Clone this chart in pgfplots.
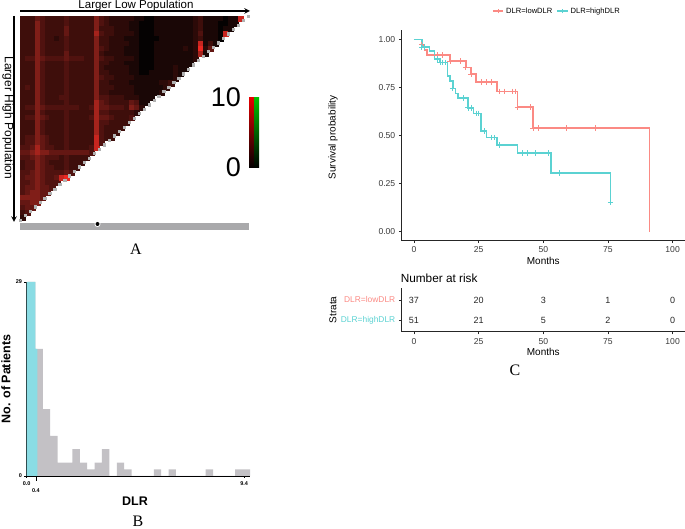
\documentclass[border=0pt]{standalone}
\usepackage{fontspec}
\setmainfont{Liberation Sans}
\newfontfamily\serifpanel{Liberation Serif}
\usepackage{pgfplots}
\usepackage{pgfplotstable}
\pgfplotsset{compat=1.18}

\definecolor{lowc}{HTML}{FB8A84}
\definecolor{highc}{HTML}{5BD2D2}
\definecolor{histgray}{HTML}{C3C1C5}
\definecolor{histcyan}{HTML}{8ADCE4}
\definecolor{bargray}{HTML}{A9A9AB}
\definecolor{ticktext}{HTML}{3A3A3A}

% heat map A, 0..9, rows top to bottom; the part below the diagonal is filtered out
\pgfplotstableread[header=false]{
3 3 3 5 4 3 3 3 3 4  3 3 3 3 3 6 4 3 2 2  2 2 2 1 1 0 0 1 1 1  1 1 1 1 1 2 3 1 1 1  1 0 1 1 8 1
3 3 3 6 4 3 3 3 3 4  3 3 3 3 3 6 4 3 2 2  2 2 1 1 0 0 0 1 1 1  1 1 1 1 1 2 3 1 1 1  0 0 1 1 1 0
3 3 3 6 4 3 3 3 3 5  3 3 3 3 3 6 3 3 3 2  2 2 1 1 0 0 0 1 1 1  1 1 1 1 1 2 3 1 1 1  0 1 1 0 0 0
3 3 3 6 4 3 3 3 3 5  3 3 3 3 3 7 4 3 3 2  2 2 2 1 0 0 0 1 1 1  1 1 1 1 1 2 4 1 1 1  0 8 7 0 0 0
3 3 3 6 4 3 3 2 3 4  3 3 3 3 3 6 3 3 2 2  2 1 1 1 0 0 0 0 1 1  1 1 1 1 1 2 3 1 1 1  0 0 0 0 0 0
3 3 3 6 4 3 3 3 3 4  3 3 3 3 3 6 3 3 2 2  2 2 1 1 0 0 0 1 1 1  1 1 1 1 1 2 8 1 3 1  0 0 0 0 0 0
3 3 3 6 4 3 3 3 3 4  3 3 3 3 3 6 4 3 2 2  2 1 1 1 0 0 0 1 1 1  1 1 1 2 1 2 9 2 5 0  0 0 0 0 0 0
3 3 3 6 4 3 3 3 3 5  3 3 3 3 3 6 3 2 2 2  2 1 1 1 0 0 0 1 1 1  1 1 1 1 1 2 7 1 0 0  0 0 0 0 0 0
3 4 4 6 5 4 4 4 4 5  4 4 4 3 3 6 4 3 3 2  2 2 2 1 0 0 0 1 1 1  1 1 1 1 1 2 3 0 0 0  0 0 0 0 0 0
3 3 3 6 4 3 3 3 3 4  3 3 3 3 3 6 3 3 2 2  2 1 1 1 0 0 0 1 1 1  1 1 1 1 1 2 0 0 0 0  0 0 0 0 0 0
3 3 3 6 4 3 3 3 3 4  3 3 3 3 3 6 3 2 2 2  2 2 1 1 0 0 0 1 1 1  1 2 1 1 1 0 0 0 0 0  0 0 0 0 0 0
3 3 3 6 4 3 3 3 3 4  3 3 3 3 3 6 3 3 2 2  2 2 1 1 0 0 1 1 1 1  1 2 1 1 0 0 0 0 0 0  0 0 0 0 0 0
3 3 3 6 4 3 3 3 3 4  3 3 3 3 3 6 4 3 3 2  2 2 2 1 1 1 1 1 1 1  1 2 3 0 0 0 0 0 0 0  0 0 0 0 0 0
3 3 3 6 4 3 3 3 3 4  3 3 3 3 3 6 3 3 2 2  2 2 1 1 1 1 1 1 2 2  3 7 0 0 0 0 0 0 0 0  0 0 0 0 0 0
3 4 3 6 4 3 3 3 3 4  3 3 3 3 3 6 3 3 3 2  2 2 2 1 1 1 1 1 1 2  1 0 0 0 0 0 0 0 0 0  0 0 0 0 0 0
3 3 3 6 4 3 3 3 3 4  3 3 3 3 3 6 3 3 2 2  2 2 2 1 1 1 1 1 2 1  0 0 0 0 0 0 0 0 0 0  0 0 0 0 0 0
3 3 3 6 4 3 3 3 4 4  3 3 3 3 3 6 4 4 3 3  3 2 2 2 1 1 1 1 1 0  0 0 0 0 0 0 0 0 0 0  0 0 0 0 0 0
3 3 3 6 4 3 3 3 3 4  3 3 3 3 3 7 5 4 3 3  3 3 5 4 1 1 1 1 0 0  0 0 0 0 0 0 0 0 0 0  0 0 0 0 0 0
3 4 4 6 5 4 4 4 4 4  4 4 3 3 4 7 5 5 4 4  4 3 6 5 2 6 1 0 0 0  0 0 0 0 0 0 0 0 0 0  0 0 0 0 0 0
3 3 3 6 4 3 3 3 3 4  3 3 3 3 3 7 4 4 3 3  3 3 3 2 1 1 0 0 0 0  0 0 0 0 0 0 0 0 0 0  0 0 0 0 0 0
3 4 4 6 5 4 3 3 3 4  3 3 3 3 4 7 5 5 4 3  3 3 4 6 2 0 0 0 0 0  0 0 0 0 0 0 0 0 0 0  0 0 0 0 0 0
3 3 3 6 4 3 3 3 3 4  3 3 3 3 3 7 4 4 3 3  3 3 3 2 0 0 0 0 0 0  0 0 0 0 0 0 0 0 0 0  0 0 0 0 0 0
3 3 3 6 4 3 3 3 3 4  3 3 3 3 3 7 4 3 3 3  3 3 2 0 0 0 0 0 0 0  0 0 0 0 0 0 0 0 0 0  0 0 0 0 0 0
3 3 3 6 4 3 3 3 3 4  3 3 3 3 3 7 4 3 3 3  4 2 0 0 0 0 0 0 0 0  0 0 0 0 0 0 0 0 0 0  0 0 0 0 0 0
3 4 4 6 5 4 3 3 3 4  3 3 3 3 3 8 4 3 3 3  3 0 0 0 0 0 0 0 0 0  0 0 0 0 0 0 0 0 0 0  0 0 0 0 0 0
3 4 4 6 5 4 3 3 3 4  3 3 3 3 3 8 4 3 3 4  0 0 0 0 0 0 0 0 0 0  0 0 0 0 0 0 0 0 0 0  0 0 0 0 0 0
4 4 5 7 5 4 4 3 3 4  3 3 3 3 4 8 4 4 3 0  0 0 0 0 0 0 0 0 0 0  0 0 0 0 0 0 0 0 0 0  0 0 0 0 0 0
5 5 6 7 6 6 5 5 5 5  5 5 5 5 4 7 5 0 0 0  0 0 0 0 0 0 0 0 0 0  0 0 0 0 0 0 0 0 0 0  0 0 0 0 0 0
4 4 5 6 5 4 4 4 3 4  3 3 3 3 3 4 0 0 0 0  0 0 0 0 0 0 0 0 0 0  0 0 0 0 0 0 0 0 0 0  0 0 0 0 0 0
3 4 4 6 5 4 3 3 3 4  3 3 3 3 4 0 0 0 0 0  0 0 0 0 0 0 0 0 0 0  0 0 0 0 0 0 0 0 0 0  0 0 0 0 0 0
3 4 4 6 5 4 4 3 3 4  3 3 4 4 0 0 0 0 0 0  0 0 0 0 0 0 0 0 0 0  0 0 0 0 0 0 0 0 0 0  0 0 0 0 0 0
4 4 5 6 5 4 4 4 4 5  4 4 4 0 0 0 0 0 0 0  0 0 0 0 0 0 0 0 0 0  0 0 0 0 0 0 0 0 0 0  0 0 0 0 0 0
4 5 5 6 5 4 4 5 8 9  9 6 0 0 0 0 0 0 0 0  0 0 0 0 0 0 0 0 0 0  0 0 0 0 0 0 0 0 0 0  0 0 0 0 0 0
4 4 5 6 5 4 4 4 5 5  0 0 0 0 0 0 0 0 0 0  0 0 0 0 0 0 0 0 0 0  0 0 0 0 0 0 0 0 0 0  0 0 0 0 0 0
4 5 5 6 5 5 4 5 5 0  0 0 0 0 0 0 0 0 0 0  0 0 0 0 0 0 0 0 0 0  0 0 0 0 0 0 0 0 0 0  0 0 0 0 0 0
4 5 6 6 5 5 5 5 0 0  0 0 0 0 0 0 0 0 0 0  0 0 0 0 0 0 0 0 0 0  0 0 0 0 0 0 0 0 0 0  0 0 0 0 0 0
6 6 6 6 5 5 5 0 0 0  0 0 0 0 0 0 0 0 0 0  0 0 0 0 0 0 0 0 0 0  0 0 0 0 0 0 0 0 0 0  0 0 0 0 0 0
5 5 6 6 5 0 0 0 0 0  0 0 0 0 0 0 0 0 0 0  0 0 0 0 0 0 0 0 0 0  0 0 0 0 0 0 0 0 0 0  0 0 0 0 0 0
4 5 5 5 0 0 0 0 0 0  0 0 0 0 0 0 0 0 0 0  0 0 0 0 0 0 0 0 0 0  0 0 0 0 0 0 0 0 0 0  0 0 0 0 0 0
3 4 4 0 0 0 0 0 0 0  0 0 0 0 0 0 0 0 0 0  0 0 0 0 0 0 0 0 0 0  0 0 0 0 0 0 0 0 0 0  0 0 0 0 0 0
2 3 0 0 0 0 0 0 0 0  0 0 0 0 0 0 0 0 0 0  0 0 0 0 0 0 0 0 0 0  0 0 0 0 0 0 0 0 0 0  0 0 0 0 0 0
}\heat

\pgfplotsset{
  kmaxis/.style={
    scale only axis, width=284pt,
    xmin=-4.9, xmax=104.9, xtick={0,25,50,75,100},
    axis x line*=bottom, axis y line*=left,
    axis line style={-, line width=1pt, color=black!85},
    tick style={color=black!85, line width=0.6pt},
    tick align=outside, major tick length=2.5pt,
    ticklabel style={font=\fontsize{8.6}{10}\selectfont, color=ticktext},
    xlabel={Months}, x label style={font=\fontsize{10}{12}\selectfont},
    xticklabel style={/pgf/number format/assume math mode=true, text height=6.2pt, text depth=0pt},
    yticklabel style={/pgf/number format/assume math mode=true},
  },
  kmline/.style={color=#1, line width=1.6pt, const plot, mark=none},
  kmcens/.style={color=#1, only marks, mark=+, mark size=2.8pt, mark options={line width=0.6pt}, forget plot},
}

\begin{document}
\begin{tikzpicture}[x=1pt,y=1pt]
\path[use as bounding box] (0,0) rectangle (685,529);

% ---- A ----
\begin{axis}[
  at={(20pt,309pt)}, anchor=south west,
  scale only axis, width=228pt, height=204pt, hide axis, clip=false,
  xmin=-0.5, xmax=45.5, ymin=-0.5, ymax=40.5, y dir=reverse,
  point meta min=0, point meta max=9, unbounded coords=discard,
  colormap={hm}{rgb255(0pt)=(5,2,2); rgb255(1pt)=(26,7,6); rgb255(2pt)=(44,10,8);
    rgb255(3pt)=(62,14,11); rgb255(4pt)=(80,18,15); rgb255(5pt)=(100,23,19);
    rgb255(6pt)=(128,30,24); rgb255(7pt)=(165,35,28); rgb255(9pt)=(236,40,34)},
]
\pgfplotsinvokeforeach{0,...,45}{
  \addplot[scatter, only marks, mark=square*, mark size=2.55pt, point meta=explicit,
    scatter/use mapped color={draw=mapped color, fill=mapped color}]
    table[x expr=#1, y expr={(#1+0.5)/46+(\coordindex+0.5)/41>1.0 ? nan : \coordindex}, meta index=#1]{\heat};
}
\addplot[only marks, mark=square*, mark size=1.1pt, color=black!30] coordinates {
(45.5,-0.5)(44.5,0.39)(43.5,1.28)(42.5,2.17)(41.5,3.07)(40.5,3.96)(39.5,4.85)(38.5,5.74)(37.5,6.63)(36.5,7.52)
(35.5,8.41)(34.5,9.3)(33.5,10.2)(32.5,11.09)(31.5,11.98)(30.5,12.87)(29.5,13.76)(28.5,14.65)(27.5,15.54)(26.5,16.43)
(25.5,17.33)(24.5,18.22)(23.5,19.11)(22.5,20)(21.5,20.89)(20.5,21.78)(19.5,22.67)(18.5,23.57)(17.5,24.46)(16.5,25.35)
(15.5,26.24)(14.5,27.13)(13.5,28.02)(12.5,28.91)(11.5,29.8)(10.5,30.7)(9.5,31.59)(8.5,32.48)(7.5,33.37)(6.5,34.26)
(5.5,35.15)(4.5,36.04)(3.5,36.93)(2.5,37.83)(1.5,38.72)(0.5,39.61)(-0.5,40.5)};
\end{axis}
\draw[line width=1.5pt, -stealth] (20,518) -- (250,518);
\node[font=\fontsize{11.5}{13}\selectfont] at (136,523) {Larger Low Population};
\draw[line width=1.5pt, -stealth] (14,513) -- (14,307);
\node[rotate=-90, font=\fontsize{12}{13}\selectfont] at (8,411) {Larger High Population};
\fill[bargray] (20,299) rectangle (249,306);
\fill[white] (97.5,305) circle (3pt);
\fill[black] (97.5,305) circle (2pt);
\shade[bottom color=black, top color=red!90!black] (249,361) rectangle (254,431);
\shade[bottom color=black, top color=green!75!black] (254,361) rectangle (259,431);
\node[anchor=east, font=\fontsize{27}{28}\selectfont] at (244.5,432) {10};
\node[anchor=east, font=\fontsize{27}{28}\selectfont] at (244.5,362) {0};
\node[font=\serifpanel\fontsize{16}{18}\selectfont] at (136,280) {A};

% ---- B ----
\begin{axis}[
  at={(26pt,53pt)}, anchor=south west,
  scale only axis, width=224pt, height=194pt,
  xmin=-0.03, xmax=9.656, ymin=0, ymax=29,
  axis x line*=bottom, axis y line*=left,
  axis line style={-, line width=0.9pt},
  tick align=outside, major tick length=2pt, tick style={line width=0.7pt, color=black},
  xtick={0,9.4}, xticklabels={0.0,9.4},
  extra x ticks={0.4}, extra x tick labels={0.4},
  extra x tick style={major tick length=5pt, xticklabel style={yshift=-4pt}},
  ytick={0,29},
  ticklabel style={font=\bfseries\fontsize{5.5}{6}\selectfont, /pgf/number format/assume math mode=true},
  xticklabel style={yshift=0pt}, yticklabel style={xshift=1.5pt},
  xlabel={\bfseries DLR}, x label style={font=\fontsize{12.5}{14}\selectfont, yshift=4pt, xshift=-3pt},
  ylabel={\bfseries No. of Patients}, y label style={font=\fontsize{12.5}{14}\selectfont, anchor=center, at={(axis description cs:-0.09,0.5)}},
]
\addplot[ybar interval, fill=histgray, draw=none] coordinates {
(0.056,29)(0.376,19)(0.696,10)(1.016,6)(1.336,2)(1.656,2)(1.976,4)(2.296,2)(2.616,1)(2.936,2)
(3.256,4)(3.576,0)(3.896,2)(4.216,1)(4.536,0)(4.856,0)(5.176,0)(5.496,1)(5.816,0)(6.136,1)
(6.456,0)(6.776,0)(7.096,0)(7.416,0)(7.736,1)(8.056,0)(8.376,0)(8.696,0)(9.016,1)(9.336,1)(9.656,0)};
\addplot[ybar interval, fill=histcyan, draw=none] coordinates {(0,29)(0.37,19)(0.457,0)};
\end{axis}
\node[font=\serifpanel\fontsize{16}{18}\selectfont] at (138,8) {B};

% ---- C survival ----
\begin{axis}[kmaxis,
  at={(401.3pt,288.3pt)}, anchor=south west, height=210.7pt,
  ymin=-0.047, ymax=1.05, ytick={0,0.25,0.5,0.75,1},
  yticklabel style={/pgf/number format/fixed, /pgf/number format/fixed zerofill, /pgf/number format/precision=2},
  ylabel={Survival probability}, y label style={font=\fontsize{10}{12}\selectfont, anchor=center, at={(axis description cs:-0.2405,0.49)}},
  x label style={yshift=3pt},
  legend style={at={(axis description cs:0.548,1.09)}, anchor=center, draw=none, fill=none, legend columns=2,
    font=\fontsize{7.6}{9}\selectfont, inner sep=0pt,
    /tikz/every even column/.append style={column sep=2pt}},
  legend cell align=left,
  legend image code/.code={
    \draw[#1] (0pt,0pt) -- (10.5pt,0pt);
    \draw[#1, line width=0.6pt] (5.25pt,-2.4pt) -- (5.25pt,2.4pt);
  },
]
\addplot[kmline=lowc] coordinates {(0,1)(3,0.973)(4,0.946)(5,0.919)(14,0.889)(20,0.855)(22,0.82)(24,0.78)(32,0.73)(40,0.65)(46,0.54)(91,0)(91,0)};
\addlegendentry{DLR=lowDLR}
\addplot[kmline=highc] coordinates {(0,1)(3,0.962)(6,0.94)(8,0.9)(10,0.88)(13,0.81)(14,0.785)(15,0.745)(16,0.72)(17,0.695)(21,0.645)(23,0.615)(26,0.525)(28,0.49)(32,0.452)(40,0.41)(53,0.305)(76,0.155)};
\addlegendentry{DLR=highDLR}
\addplot[kmcens=lowc] coordinates {(3,0.973)(9,0.919)(11,0.919)(14,0.889)(18,0.889)(20,0.855)(22,0.82)(26,0.78)(28,0.78)(30,0.78)(33,0.73)(35,0.73)(38,0.73)(39,0.73)(40,0.65)(45,0.65)(46,0.54)(48,0.54)(59,0.54)(70,0.54)};
\addplot[kmcens=highc] coordinates {(3,0.962)(4,0.962)(9,0.9)(10,0.88)(11,0.88)(12,0.88)(15,0.745)(19,0.695)(21,0.645)(22,0.645)(24,0.615)(25,0.615)(27,0.525)(30,0.49)(31,0.49)(33,0.452)(42,0.41)(44,0.41)(47,0.41)(52,0.41)(56,0.305)(76,0.155)};
\end{axis}

% ---- C number at risk ----
\begin{axis}[kmaxis,
  at={(401.3pt,197pt)}, anchor=south west, height=44pt,
  ymin=0.4, ymax=2.6, ytick={1,2},
  yticklabels={\textcolor{highc}{DLR=highDLR},\textcolor{lowc}{DLR=lowDLR}},
  y tick label style={font=\fontsize{8.4}{10}\selectfont},
  ylabel={Strata}, y label style={font=\fontsize{10}{12}\selectfont, anchor=center, at={(axis description cs:-0.2405,0.5)}},
  title={Number at risk}, title style={font=\fontsize{11.8}{13}\selectfont, at={(0,1)}, anchor=south west, yshift=-4pt, xshift=-4pt},
  x label style={yshift=3pt},
  clip=false,
]
\addplot[only marks, mark=none, point meta=explicit symbolic,
  nodes near coords, every node near coord/.append style={font=\fontsize{9}{10}\selectfont, color=black!85, anchor=center}]
  table[meta=n] {
x y n
0 2 37
25 2 20
50 2 3
75 2 1
100 2 0
0 1 51
25 1 21
50 1 5
75 1 2
100 1 0
};
\end{axis}
\node[font=\serifpanel\fontsize{16}{18}\selectfont] at (515,159) {C};
\end{tikzpicture}
\end{document}
